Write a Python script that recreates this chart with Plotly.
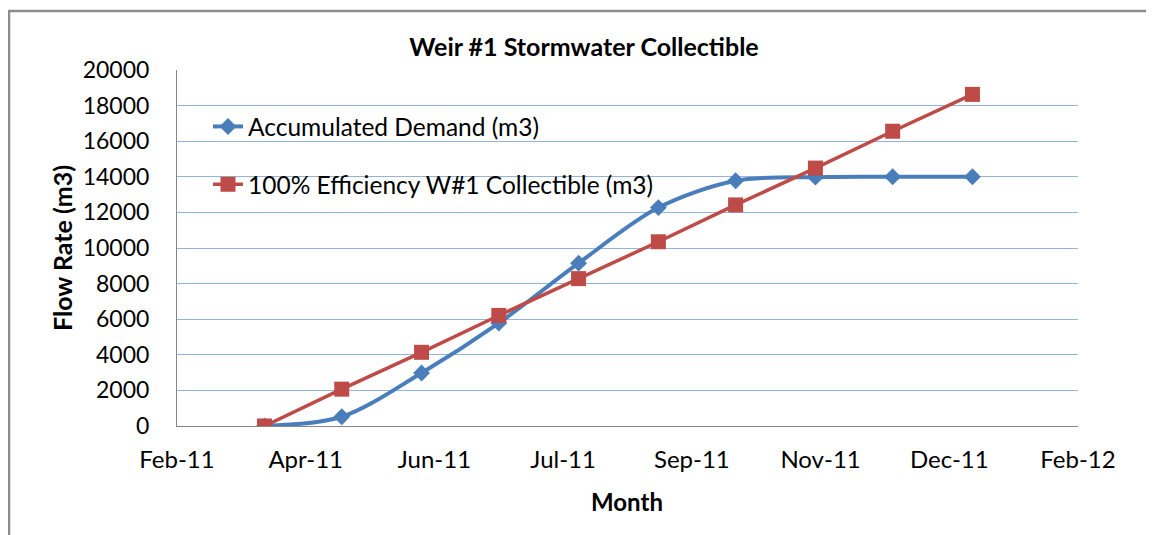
import plotly.graph_objects as go

months = ["2011-03-31", "2011-04-30", "2011-05-31", "2011-06-30", "2011-07-31",
          "2011-08-31", "2011-09-30", "2011-10-31", "2011-11-30", "2011-12-31"]
demand = [0, 520, 2980, 5780, 9150, 12270, 13780, 13980, 14000, 14000]
collectible = [0, 2070, 4140, 6210, 8280, 10350, 12420, 14490, 16560, 18630]

title_text = "Weir #1 Stormwater Collectible"
name_demand = "Accumulated Demand (m3)"
name_collect = "100% Efficiency W#1 Collectible (m3)"
x_title = "Month"
y_title = "Flow Rate (m3)"

FONT = "Lato, 'Open Sans', sans-serif"
BLUE = "#4A7EBB"
RED = "#BE4B48"
GRID = "#95B3D7"
AXIS = "#868686"

# the page body has an 8px margin; lay out in page pixels
OFF = 8
PAGE_W, PAGE_H = 1154, 535
W, H = PAGE_W - OFF, PAGE_H - OFF
PL, PR, PT, PB = 177, 1078, 70, 426   # plot area in page pixels
L = PL - OFF
T = PT - OFF
R = W - (PR - OFF)
B = H - (PB - OFF)
pw, ph = PR - PL, PB - PT

def px(x):
    return (x - PL) / pw

def py(y):
    return (PB - y) / ph

fig = go.Figure()
fig.add_trace(go.Scatter(
    x=months, y=demand, name=name_demand, mode="lines+markers",
    line=dict(color=BLUE, width=4, shape="spline", smoothing=0.9),
    marker=dict(symbol="diamond", size=13, color=BLUE),
    legendgroup="a",
))
fig.add_trace(go.Scatter(
    x=months, y=collectible, name=name_collect, mode="lines+markers",
    line=dict(color=RED, width=3.5),
    marker=dict(symbol="square", size=15, color=RED),
    legendgroup="b",
))

fig.update_layout(
    width=W, height=H,
    margin=dict(l=L, r=R, t=T, b=B),
    paper_bgcolor="white", plot_bgcolor="white",
    font=dict(family=FONT, color="#000000", size=23),
    title=dict(text="<b>" + title_text + "</b>", x=(584 - OFF) / W, xanchor="center",
               y=1 - (47 - OFF) / H, yanchor="middle", yref="container",
               font=dict(size=25, family=FONT, color="#000000")),
    showlegend=True,
    legend=dict(x=px(208), y=py(104), xanchor="left", yanchor="top",
                bgcolor="rgba(0,0,0,0)", font=dict(size=24.5, family=FONT),
                tracegroupgap=23, traceorder="grouped"),
    xaxis=dict(
        type="date",
        range=["2011-02-25", "2012-02-10"],
        tick0="2011-02-25", dtick=50 * 86400000,
        tickformat="%b-%y",
        showgrid=False, showline=True, linecolor=AXIS, linewidth=1,
        ticks="", tickfont=dict(size=24, family=FONT),
        ticklabelstandoff=12,
    ),
    yaxis=dict(
        range=[0, 20000], dtick=2000, tickformat="d",
        showgrid=True, gridcolor=GRID, gridwidth=1,
        showline=True, linecolor=AXIS, linewidth=1, zeroline=False,
        ticks="", tickfont=dict(size=23, family=FONT),
        ticklabelstandoff=22,
    ),
    shapes=[
        dict(type="rect", xref="paper", yref="paper",
             x0=px(9), x1=px(1175), y0=py(11), y1=py(570),
             line=dict(color="#8C8C8C", width=2.5), fillcolor="rgba(0,0,0,0)",
             layer="below"),
    ],
    annotations=[
        dict(text="<b>" + y_title + "</b>", xref="paper", yref="paper",
             x=px(62), y=py(248), textangle=-90, showarrow=False,
             xanchor="center", yanchor="middle",
             font=dict(size=25, family=FONT, color="#000000")),
        dict(text="<b>" + x_title + "</b>", xref="paper", yref="paper",
             x=px(627), y=py(501), showarrow=False,
             xanchor="center", yanchor="middle",
             font=dict(size=24, family=FONT, color="#000000")),
    ],
)

fig.write_html("out.html")
